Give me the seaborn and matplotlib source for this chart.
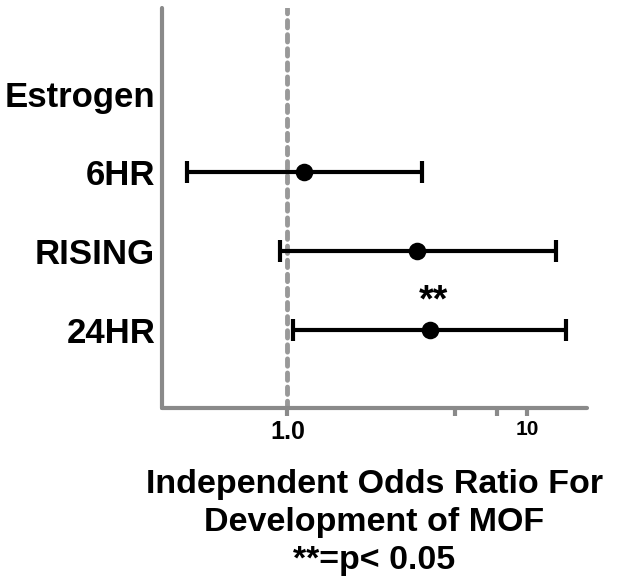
import matplotlib
matplotlib.use('Agg')

import matplotlib.pyplot as plt
import seaborn as sns
import pandas as pd
import numpy as np

# odds ratios (log x axis)
groups = ["Estrogen", "6HR", "RISING", "24HR"]
odds = [np.nan, 1.17, 3.48, 3.94]
lower = [np.nan, 0.38, 0.93, 1.06]
upper = [np.nan, 3.64, 13.2, 14.6]
stars = ["", "", "", "**"]

major_ticks = [1.0, 10]
major_labels = ["1.0", "10"]
minor_ticks = [5, 7.5]

sns.set_style("white")
plt.rcParams['font.family'] = ['Liberation Sans', 'DejaVu Sans']
plt.rcParams['text.color'] = 'black'
plt.rcParams['axes.labelcolor'] = 'black'
plt.rcParams['xtick.labelcolor'] = 'black'
plt.rcParams['ytick.labelcolor'] = 'black'

df = pd.DataFrame({"group": groups, "odds": odds, "lower": lower, "upper": upper})
df["y"] = np.arange(len(groups))

fig = plt.figure(figsize=(6.21, 5.85), dpi=100)
ax = fig.add_axes([0.261, 0.3026, 0.684, 0.683])

grey = "#8a8a8a"
ax.axvline(1.0, color="#999999", lw=3.5, ls=(0, (1.5, 1.4)), dash_capstyle="round", zorder=1)

d = df.dropna()
ax.errorbar(d["odds"], d["y"], xerr=[d["odds"] - d["lower"], d["upper"] - d["odds"]],
            fmt="none", ecolor="black", elinewidth=3, capsize=8, capthick=3, zorder=2)
sns.scatterplot(data=d, x="odds", y="y", color="black", s=160, edgecolor="black",
                linewidth=0, ax=ax, zorder=3, legend=False)

for i, s in enumerate(stars):
    if s:
        ax.text(df["odds"][i] * 1.03, df["y"][i] - 0.36, s, ha="center", va="center",
                fontsize=27, fontweight="bold")

ax.set_xscale("log")
ax.set_xlim(0.30, 17.8)
ax.set_ylim(3.99, -1.08)

ax.set_yticks(df["y"])
ax.set_yticklabels(groups, fontsize=25, fontweight="bold")
ax.set_xticks(major_ticks)
ax.set_xticklabels(major_labels, fontweight="bold")
for lab, fs in zip(ax.get_xticklabels(), [18, 15]):
    lab.set_fontsize(fs)
ax.set_xticks(minor_ticks, minor=True)
ax.set_xticklabels([], minor=True)

ax.tick_params(axis="y", length=0, pad=5)
ax.tick_params(axis="x", which="both", direction="out", length=6, width=3, color=grey,
               bottom=True, pad=3)

for side in ["top", "right"]:
    ax.spines[side].set_visible(False)
for side in ["left", "bottom"]:
    ax.spines[side].set_color(grey)
    ax.spines[side].set_linewidth(3)
    ax.spines[side].set_capstyle("round")

ax.set_xlabel("Independent Odds Ratio For\nDevelopment of MOF\n**=p< 0.05",
              fontsize=24.5, fontweight="bold", labelpad=18, linespacing=1.28)
ax.set_ylabel("")

fig.savefig("out.png", dpi=100)
